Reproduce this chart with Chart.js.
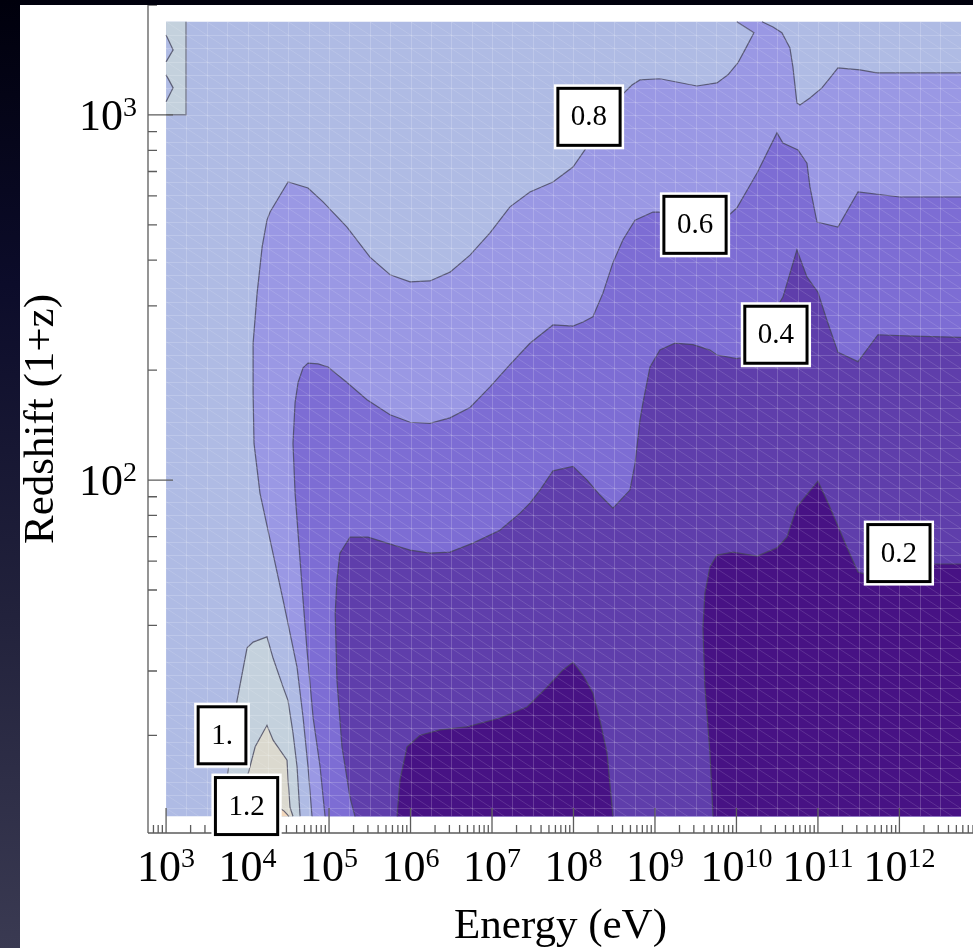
<!DOCTYPE html>
<html>
<head>
<meta charset="utf-8">
<script src="https://cdn.jsdelivr.net/npm/chart.js@4.4.1/dist/chart.umd.min.js"></script>
<style>
html,body{margin:0;padding:0;width:973px;height:948px;overflow:hidden;}
body{background:linear-gradient(to bottom,#00000c 0%,#0c0c2a 30%,#22223c 65%,#3a3a52 100%);}
#wrap{position:absolute;left:20px;top:5px;width:953px;height:943px;background:#ffffff;}
canvas{display:block;}
</style>
</head>
<body>
<div id="wrap"><canvas id="c" width="953" height="943"></canvas></div>
<script>
// ---------------- data ----------------
const energyRange   = [1e3, 5.7e12];   // extent of the computed grid (eV)
const redshiftRange = [12, 1800];      // extent of the computed grid (1+z)
const axisEnergyRange   = [600, 8.0e12];
const axisRedshiftRange = [10.8, 2000];
const xMajorTicks = [1e3,1e4,1e5,1e6,1e7,1e8,1e9,1e10,1e11,1e12];
const yMajorTicks = [1e2,1e3];

// region below the 0.8 contour
const c08Energy = [6.18e4,5.52e4,4.80e4,4.05e4,3.32e4,2.73e4,1.42e4,1.20e4,1.17e4,1.17e4,1.31e4,1.51e4,1.73e4,1.89e4,3.14e4,5.52e4,8.44e4,1.66e5,3.18e5,5.60e5,9.86e5,1.73e6,3.05e6,5.37e6,9.45e6,1.66e7,2.92e7,5.60e7,9.86e7,1.38e8,2.11e8,3.72e8,5.22e8,6.55e8,1.15e9,3.27e9,5.77e9,7.87e9,1.04e10,1.27e10,1.64e10,1.01e10,2.06e10,2.81e10,3.61e10,4.53e10,4.93e10,5.52e10,6.01e10,7.98e10,1.12e11,1.40e11,1.76e11,3.27e11,5.30e11,5.7e12,5.7e12];
const c08Redshift = [12,16.4,22.4,30.7,38.1,46.9,92.1,126,173,237,325,435,515,542,655,631,578,493,408,365,349,351,371,413,475,560,615,655,720,802,939,1120,1208,1247,1256,1200,1224,1288,1388,1507,1679,1800,1800,1742,1679,1526,1354,1079,1065,1113,1186,1262,1345,1328,1303,1303,12];

// region below the 0.6 contour
const c06Energy = [8.93e4,7.76e4,6.37e4,5.37e4,4.80e4,3.83e4,3.61e4,3.83e4,4.17e4,4.80e4,5.52e4,7.33e4,9.73e4,1.66e5,2.92e5,5.60e5,9.86e5,1.73e6,3.05e6,5.37e6,9.45e6,1.66e7,2.92e7,5.60e7,9.86e7,1.31e8,1.73e8,2.30e8,3.05e8,4.05e8,5.69e8,9.45e8,1.33e9,7.64e9,1.01e10,1.79e10,3.14e10,3.72e10,5.69e10,7.33e10,7.98e10,9.73e10,1.76e11,3.10e11,1.01e12,5.7e12,5.7e12];
const c06Redshift = [12,16.4,22.4,34.2,46.9,92.1,126,163,185,203,209,208,204,185,166,151,144,143,148,158,180,207,237,266,264,271,280,325,394,455,515,542,542,526,556,693,893,838,802,738,635,509,493,615,596,596,12];

// region below the 0.4 contour
const c04Energy = [2.08e5,1.81e5,1.44e5,1.25e5,1.19e5,1.25e5,1.36e5,1.81e5,3.01e5,5.15e5,9.86e5,1.73e6,3.05e6,5.85e6,1.25e7,2.21e7,2.92e7,3.88e7,5.60e7,9.86e7,1.47e8,2.11e8,3.05e8,4.93e8,5.69e8,6.55e8,7.13e8,8.69e8,1.15e9,1.76e9,2.92e9,4.73e9,5.77e9,1.01e10,1.35e10,3.72e10,5.52e10,7.33e10,1.0e11,1.29e11,1.76e11,3.10e11,5.45e11,1.47e12,5.7e12,5.7e12];
const c04Redshift = [12,13.5,18.6,28.3,43.2,53.2,63.1,69.8,69.8,67.2,64.3,63.1,63.5,67.2,72.9,81.2,86.5,93.9,106,109,100,91,83.8,93.9,111,146,163,204,227,237,235,227,220,215,218,317,427,360,327,274,224,211,250,248,246,12];

// regions below the 0.2 contour
const c02aEnergy = [6.83e5,7.43e5,9.06e5,1.31e6,2.30e6,4.93e6,1.25e7,2.69e7,4.73e7,7.43e7,9.86e7,1.31e8,1.73e8,2.11e8,2.58e8,3.05e8];
const c02aRedshift = [12,15.1,18.6,20.0,20.7,21.1,22.3,23.9,27.1,30.2,31.7,29.2,26.1,22.0,17.9,12];
const c02bEnergy = [5.15e9,4.73e9,4.10e9,3.88e9,4.10e9,4.73e9,5.77e9,9.06e9,1.79e10,3.14e10,4.17e10,5.52e10,1.0e11,1.40e11,2.27e11,3.10e11,4.10e11,2.37e12,5.7e12,5.7e12];
const c02bRedshift = [12,17.9,27.1,39.5,49.0,57.8,62.3,63.5,61.9,65.2,69.8,84.4,99.4,84.4,65.5,56.0,55.0,58.9,58.9,12];

// regions above 1.0, 1.2, 1.4 (bottom left) and above 1.0 (top left)
const c10Energy = [4.86e3,5.60e3,6.45e3,7.43e3,9.86e3,1.17e4,1.73e4,2.06e4,2.73e4,3.14e4,3.61e4,4.05e4,4.41e4];
const c10Redshift = [12,15.3,19.4,24.9,34.7,36.0,37.2,32.5,27.1,24.9,20.3,16.4,12];
const c12Energy = [8.09e3,9.86e3,1.24e4,1.73e4,2.06e4,3.05e4,3.14e4,3.32e4,3.61e4];
const c12Redshift = [12,15.3,18.6,21.3,19.4,17.1,15.1,12.7,12];
const c14Energy = [1.89e4,2.17e4,2.81e4,3.23e4];
const c14Redshift = [12,12.9,12.4,12];
const c10TopEnergy = [1e3,1760,1760,1e3,1e3,1220,1e3,1e3,1220,1e3];
const c10TopRedshift = [1800,1800,1000,1000,1086,1186,1287,1397,1507,1656];

// contour labels
const labelText = ['0.8','0.6','0.4','0.2','1.','1.2'];
const labelEnergy = [1.55e8,3.10e9,3.05e10,9.86e11,4.86e3,9.72e3];
const labelRedshift = [988,500,250,63.1,20.0,12.8];

// ---------------- styling ----------------
const SERIF = "'Liberation Serif','Times New Roman',serif";
const LINE = 'rgba(70,70,92,0.8)';
const colAbove08 = '#afbbe4', col0608 = '#9a98e4', col0406 = '#7d6dd4', col0204 = '#5f3eab',
      colBelow02 = '#471284', col1012 = '#c4d1dd', col1214 = '#dbd9cf', colAbove14 = '#f2d7bb';

const regions = [
  {E:[energyRange[0],energyRange[1],energyRange[1],energyRange[0]], Z:[redshiftRange[0],redshiftRange[0],redshiftRange[1],redshiftRange[1]], color:colAbove08, stroke:false},
  {E:c08Energy, Z:c08Redshift, color:col0608},
  {E:c06Energy, Z:c06Redshift, color:col0406},
  {E:c04Energy, Z:c04Redshift, color:col0204},
  {E:c02aEnergy, Z:c02aRedshift, color:colBelow02},
  {E:c02bEnergy, Z:c02bRedshift, color:colBelow02},
  {E:c10Energy, Z:c10Redshift, color:col1012},
  {E:c12Energy, Z:c12Redshift, color:col1214},
  {E:c14Energy, Z:c14Redshift, color:colAbove14},
  {E:c10TopEnergy, Z:c10TopRedshift, color:col1012}
];

function onEdge(a,b){
  return (a.x===b.x && (a.x===energyRange[0]||a.x===energyRange[1])) ||
         (a.y===b.y && (a.y===redshiftRange[0]||a.y===redshiftRange[1]));
}

const datasets = [];
regions.forEach((r,i)=>{
  const data = r.E.map((e,k)=>({x:e, y:r.Z[k]}));
  datasets.push({data, fill:'shape', backgroundColor:r.color, borderColor:'rgba(0,0,0,0)', borderWidth:0, pointRadius:0, tension:0, order:100-i});
  if (r.stroke !== false) {
    datasets.push({data, fill:false, borderColor:LINE, borderWidth:1.2, pointRadius:0, tension:0, order:1,
      segment:{borderColor: c => onEdge(data[c.p0DataIndex], data[c.p1DataIndex]) ? 'rgba(0,0,0,0)' : LINE}});
  }
});

function logTicks(min,max){
  const out=[];
  for(let e=Math.floor(Math.log10(min)); e<=Math.ceil(Math.log10(max)); e++){
    for(let m=1;m<=9;m++){
      const v=m*Math.pow(10,e);
      if(v>=min*0.9999 && v<=max*1.0001) out.push({value:v, major:m===1});
    }
  }
  return out;
}

function drawPow(ctx, value, x, y, align){
  const exp = String(Math.round(Math.log10(value)));
  ctx.font = '44px '+SERIF;
  const w1 = ctx.measureText('10').width;
  ctx.font = '28px '+SERIF;
  const w2 = ctx.measureText(exp).width;
  const total = w1 + w2;
  const x0 = align==='center' ? x - total/2 : x - total;
  ctx.fillStyle = '#000';
  ctx.textAlign = 'left';
  ctx.textBaseline = 'alphabetic';
  ctx.font = '44px '+SERIF;
  ctx.fillText('10', x0, y);
  ctx.font = '28px '+SERIF;
  ctx.fillText(exp, x0 + w1, y - 14);
}

const meshPlugin = {
  id:'mesh',
  afterDatasetsDraw(chart){
    const ctx = chart.ctx, xs = chart.scales.x, ys = chart.scales.y;
    const xL = xs.getPixelForValue(energyRange[0]), xR = xs.getPixelForValue(energyRange[1]);
    const yT = ys.getPixelForValue(redshiftRange[1]), yB = ys.getPixelForValue(redshiftRange[0]);
    const cw = (xs.getPixelForValue(1e4) - xs.getPixelForValue(1e3)) / 4;
    const ch = 13.33;
    ctx.save();
    ctx.beginPath(); ctx.rect(xL, yT, xR-xL, yB-yT); ctx.clip();
    ctx.lineWidth = 1;
    ctx.strokeStyle = 'rgba(255,255,255,0.18)';
    ctx.beginPath();
    for(let x=xL+cw; x<xR; x+=cw){ ctx.moveTo(Math.round(x)+0.5, yT); ctx.lineTo(Math.round(x)+0.5, yB); }
    for(let y=yT+ch; y<yB; y+=ch){ ctx.moveTo(xL, Math.round(y)+0.5); ctx.lineTo(xR, Math.round(y)+0.5); }
    ctx.stroke();
    ctx.strokeStyle = 'rgba(255,255,255,0.13)';
    ctx.beginPath();
    const slope = ch/cw, W = xR-xL;
    for(let k=-Math.ceil(W*slope/ch)-1; k*ch <= (yB-yT); k++){
      const y0 = yT + k*ch;
      ctx.moveTo(xL, y0); ctx.lineTo(xR, y0 + W*slope);
    }
    ctx.stroke();
    ctx.restore();
  }
};

const axesPlugin = {
  id:'frameAxes',
  afterDatasetsDraw(chart){
    const ctx = chart.ctx, xs = chart.scales.x, ys = chart.scales.y;
    const a = chart.chartArea;
    ctx.save();
    ctx.strokeStyle = '#5c5c5c';
    ctx.lineWidth = 1.3;
    ctx.beginPath();
    ctx.moveTo(a.left, a.bottom); ctx.lineTo(a.right, a.bottom);
    ctx.moveTo(a.left, a.top); ctx.lineTo(a.left, a.bottom);
    xs.ticks.forEach(t=>{
      const p = xs.getPixelForValue(t.value);
      ctx.moveTo(p, a.bottom); ctx.lineTo(p, a.bottom - (t.major ? 25 : 8));
    });
    ys.ticks.forEach(t=>{
      const p = ys.getPixelForValue(t.value);
      ctx.moveTo(a.left, p); ctx.lineTo(a.left + (t.major ? 25 : 9), p);
    });
    ctx.stroke();
    xMajorTicks.forEach(v=> drawPow(ctx, v, xs.getPixelForValue(v), a.bottom + 48, 'center'));
    yMajorTicks.forEach(v=> drawPow(ctx, v, a.left - 11, ys.getPixelForValue(v) + 15, 'right'));
    ctx.restore();
  },
  afterDraw(chart){
    const ctx = chart.ctx, xs = chart.scales.x, ys = chart.scales.y;
    ctx.save();
    ctx.font = '29px '+SERIF;
    labelText.forEach((t,i)=>{
      const px = xs.getPixelForValue(labelEnergy[i]);
      const py = ys.getPixelForValue(labelRedshift[i]);
      const w = ctx.measureText(t).width + 26, h = 57;
      const x0 = px - w/2, y0 = py - h/2;
      ctx.fillStyle = '#fff';
      ctx.fillRect(x0-4, y0-4, w+8, h+8);
      ctx.strokeStyle = '#000';
      ctx.lineWidth = 3;
      ctx.strokeRect(x0, y0, w, h);
      ctx.fillStyle = '#000';
      ctx.textAlign = 'center';
      ctx.textBaseline = 'middle';
      ctx.fillText(t, px, py + 1);
    });
    ctx.restore();
  }
};

new Chart(document.getElementById('c'), {
  type:'line',
  data:{datasets},
  options:{
    responsive:false, animation:false, devicePixelRatio:1, events:[],
    layout:{padding:0},
    plugins:{legend:{display:false}, tooltip:{enabled:false}, title:{display:false}},
    scales:{
      x:{type:'logarithmic', position:'bottom', min:axisEnergyRange[0], max:axisEnergyRange[1], bounds:'data',
         grid:{display:false}, border:{display:false}, ticks:{display:false, autoSkip:false},
         title:{display:true, text:'Energy (eV)', color:'#000', font:{family:SERIF, size:43, lineHeight:0.9}, padding:{top:0,bottom:2}},
         afterBuildTicks: s => { s.ticks = logTicks(s.min, s.max); },
         afterFit: s => { s.height = 115; }},
      y:{type:'logarithmic', position:'left', min:axisRedshiftRange[0], max:axisRedshiftRange[1], bounds:'data',
         grid:{display:false}, border:{display:false}, ticks:{display:false, autoSkip:false},
         title:{display:true, text:'Redshift (1+z)', color:'#000', font:{family:SERIF, size:43, lineHeight:0.9}, padding:{top:2,bottom:0}},
         afterBuildTicks: s => { s.ticks = logTicks(s.min, s.max); },
         afterFit: s => { s.width = 128; }}
    }
  },
  plugins:[meshPlugin, axesPlugin]
});
</script>
</body>
</html>
